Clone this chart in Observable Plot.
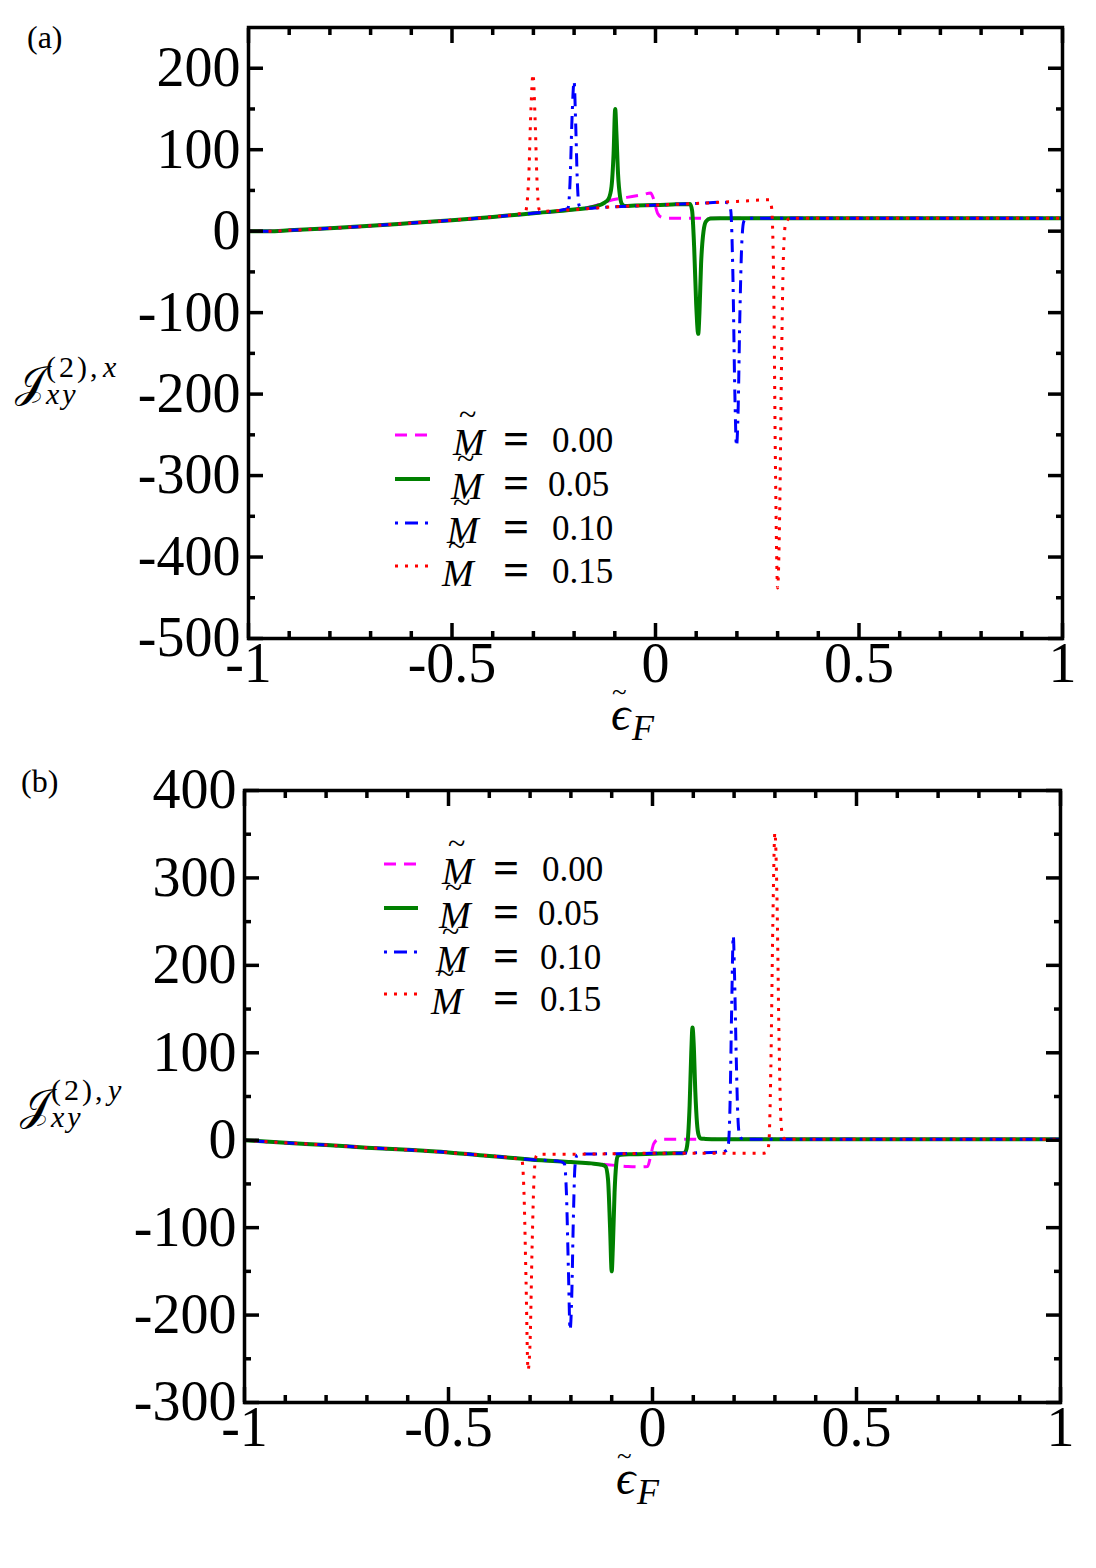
<!DOCTYPE html>
<html><head><meta charset="utf-8">
<script src="https://cdn.jsdelivr.net/npm/d3@7"></script>
<script src="https://cdn.jsdelivr.net/npm/@observablehq/plot@0.6"></script>
<style>
body{margin:0;background:#fff;}
#chart svg{display:block;}
</style></head><body><div id="chart"></div>
<script>
// ---------- series meta ----------
const massLabels = ["0.00", "0.05", "0.10", "0.15"];
const colors = ["#ff00ff", "#008000", "#0000ff", "#ff0000"];
const dashes = ["12,8", null, "3,7,13,7", "3,7"];
const widths = [3, 4, 3, 3];

// ---------- ticks ----------
const xTicks = [-1, -0.5, 0, 0.5, 1];
const xTickLabels = ["-1", "-0.5", "0", "0.5", "1"];
const xMinor = [-0.9, -0.8, -0.7, -0.6, -0.4, -0.3, -0.2, -0.1, 0.1, 0.2, 0.3, 0.4, 0.6, 0.7, 0.8, 0.9];
const aYTicks = [-500, -400, -300, -200, -100, 0, 100, 200];
const aYTickLabels = ["-500", "-400", "-300", "-200", "-100", "0", "100", "200"];
const aYMinor = [-450, -350, -250, -150, -50, 50, 150];
const bYTicks = [-300, -200, -100, 0, 100, 200, 300, 400];
const bYTickLabels = ["-300", "-200", "-100", "0", "100", "200", "300", "400"];
const bYMinor = [-250, -150, -50, 50, 150, 250, 350];

// ---------- panel (a) data: J^(2),x ----------
const aBaseX = [-1, -0.95, -0.9, -0.8, -0.7, -0.6, -0.5, -0.4, -0.3, -0.2];
const aBaseY = [0, 0, 1, 3.5, 6.5, 10, 13.5, 17.5, 22, 26.5];
const a000X = [-0.15, -0.105, -0.07, -0.03, -0.012, -0.005, 0.005, 0.015, 0.025, 0.5, 1];
const a000Y = [31, 38.5, 41.5, 45, 47, 40, 22, 17, 16, 16, 16];
const a005X = [-0.15, -0.125, -0.115, -0.108, -0.103, -0.099, -0.096, -0.092, -0.087, -0.082, -0.075, -0.05, 0, 0.05, 0.085, 0.09, 0.095, 0.1, 0.105, 0.108, 0.112, 0.118, 0.124, 0.135, 0.16, 1];
const a005Y = [30, 35, 40, 55, 95, 150, 120, 70, 42, 33, 31, 31.5, 32, 33, 33.5, 25, -20, -90, -126, -100, -40, 0, 12, 15.5, 16, 16];
const a010X = [-0.225, -0.215, -0.21, -0.205, -0.2, -0.196, -0.192, -0.188, -0.183, -0.1, 0, 0.1, 0.17, 0.18, 0.185, 0.19, 0.195, 0.199, 0.203, 0.207, 0.212, 0.217, 0.225, 1];
const a010Y = [26.5, 28, 60, 140, 184, 130, 60, 32, 28, 30, 32, 34, 35.5, 34, 25, -50, -200, -264, -220, -110, -15, 12, 16, 16];
const a015X = [-0.32, -0.312, -0.306, -0.301, -0.296, -0.291, -0.286, -0.28, -0.2, -0.1, 0, 0.1, 0.2, 0.28, 0.285, 0.29, 0.295, 0.3, 0.305, 0.31, 0.315, 0.32, 0.33, 1];
const a015Y = [23, 60, 150, 193, 140, 60, 27, 24.5, 26.5, 30, 32, 34, 36.5, 38.5, 30, -50, -300, -438, -350, -150, -20, 10, 16, 16];

// ---------- panel (b) data: J^(2),y ----------
const bBaseX = [-1, -0.9, -0.8, -0.7, -0.6, -0.5, -0.4, -0.35];
const bBaseY = [0, -3, -5.5, -8.5, -11, -14, -18, -20];
const b000X = [-0.3, -0.2, -0.15, -0.11, -0.06, -0.03, -0.012, -0.005, 0.003, 0.015, 0.03, 1];
const b000Y = [-22, -25, -26.5, -28, -30, -30.5, -30, -19, -4, 1, 1, 1];
const b005X = [-0.3, -0.2, -0.15, -0.125, -0.115, -0.109, -0.104, -0.1, -0.097, -0.093, -0.089, -0.085, -0.078, -0.05, 0, 0.05, 0.075, 0.081, 0.086, 0.091, 0.095, 0.098, 0.101, 0.105, 0.109, 0.113, 0.118, 0.13, 0.16, 1];
const b005Y = [-22, -25, -26.5, -28, -30, -45, -100, -150, -120, -60, -28, -18, -16.5, -16, -15.5, -15, -15, -13, -2, 40, 100, 129, 110, 55, 20, 6, 2, 1.5, 1, 1];
const b010X = [-0.3, -0.225, -0.216, -0.211, -0.206, -0.202, -0.198, -0.194, -0.19, -0.185, -0.178, -0.1, 0, 0.1, 0.17, 0.182, 0.186, 0.19, 0.194, 0.198, 0.201, 0.205, 0.209, 0.213, 0.218, 0.226, 1];
const b010Y = [-22, -24.5, -27, -60, -150, -217, -180, -90, -30, -17, -16, -15.5, -15, -14.5, -13.5, -11.5, -5, 40, 150, 234, 190, 100, 30, 6, 2, 1, 1];
const b015X = [-0.33, -0.32, -0.315, -0.31, -0.305, -0.3, -0.295, -0.29, -0.285, -0.28, -0.2, -0.1, 0, 0.1, 0.2, 0.27, 0.28, 0.285, 0.29, 0.295, 0.3, 0.305, 0.31, 0.315, 0.32, 0.33, 1];
const b015Y = [-21.5, -23, -60, -160, -263, -230, -120, -40, -18, -16, -16, -15.5, -15, -15, -15, -15, -14, -5, 80, 250, 352, 280, 120, 20, 3, 1, 1];

function build(bx, by, tx, ty) {
  const pts = [];
  bx.forEach((x, i) => { if (x < tx[0]) pts.push({x, y: by[i]}); });
  tx.forEach((x, i) => pts.push({x, y: ty[i]}));
  return pts;
}
const aSeries = [
  build(aBaseX, aBaseY, a000X, a000Y),
  build(aBaseX, aBaseY, a005X, a005Y),
  build(aBaseX, aBaseY, a010X, a010Y),
  build(aBaseX, aBaseY, a015X, a015Y)
];
const bSeries = [
  build(bBaseX, bBaseY, b000X, b000Y),
  build(bBaseX, bBaseY, b005X, b005Y),
  build(bBaseX, bBaseY, b010X, b010Y),
  build(bBaseX, bBaseY, b015X, b015Y)
];

const FONT = "'Liberation Serif', 'Times New Roman', serif";

function panel(cfg) {
  const xMap = new Map(xTicks.map((t, i) => [t, xTickLabels[i]]));
  const yMap = new Map(cfg.yTicks.map((t, i) => [t, cfg.yLabels[i]]));
  const tk = {strokeWidth: 3.5, fill: "none", label: null};
  return Plot.plot({
    width: 1096, height: cfg.height,
    marginLeft: cfg.ml, marginRight: cfg.mr, marginTop: cfg.mt, marginBottom: cfg.mb,
    style: {fontFamily: FONT, fontSize: "56px", background: "white", overflow: "visible", color: "black"},
    x: {domain: [-1, 1]},
    y: {domain: cfg.yDomain},
    marks: [
      ...cfg.series.map((s, i) => Plot.line(s, {
        x: "x", y: "y", stroke: colors[i], strokeWidth: widths[i],
        strokeDasharray: dashes[i], curve: "monotone-x", strokeLinecap: "butt"
      })),
      Plot.axisY(cfg.yTicks, {...tk, anchor: "left", tickSize: -15}),
      Plot.axisY(cfg.yMinor, {...tk, anchor: "left", tickSize: -7}),
      Plot.axisY(cfg.yTicks, {...tk, anchor: "right", tickSize: -15}),
      Plot.axisY(cfg.yMinor, {...tk, anchor: "right", tickSize: -7}),
      Plot.axisX(xTicks, {...tk, anchor: "bottom", tickSize: -15}),
      Plot.axisX(xMinor, {...tk, anchor: "bottom", tickSize: -7}),
      Plot.axisX(xTicks, {...tk, anchor: "top", tickSize: -15}),
      Plot.axisX(xMinor, {...tk, anchor: "top", tickSize: -7}),
      Plot.axisY(cfg.yTicks, {anchor: "left", tickSize: 0, tickPadding: 8, label: null,
        tickFormat: d => yMap.get(d), fontSize: 56, fontFamily: FONT}),
      Plot.axisX(xTicks, {anchor: "bottom", tickSize: 0, tickPadding: 4, label: null,
        tickFormat: d => xMap.get(d), fontSize: 56, fontFamily: FONT}),
      Plot.frame({stroke: "black", strokeWidth: 3.5})
    ]
  });
}

// one <text> per label, pieces as absolutely placed tspans
function rich(g, parts) {
  const t = g.append("text").attr("font-family", FONT).attr("text-anchor", "start").attr("fill", "black");
  parts.forEach(p => {
    const s = t.append("tspan").attr("x", p.x).attr("y", p.y).attr("font-size", p.size).text(p.s);
    if (p.italic) s.attr("font-style", "italic");
    if (p.bold) s.attr("font-weight", "bold");
    if (p.ls) s.attr("letter-spacing", p.ls);
  });
  return t;
}

function decorate(svg, d) {
  const g = d3.select(svg).append("g").attr("text-anchor", "start");
  rich(g, [{x: d.tag[0], y: d.tag[1], s: d.tag[2], size: 32}]);
  // y label  J_{xy}^{(2),c}
  const [yx, yy] = d.yl;
  rich(g, [
    {x: yx, y: yy, s: "\u{1D4A5}", size: 44},
    {x: yx + 31, y: yy - 20, s: "(2),", size: 30, ls: 3},
    {x: yx + 88, y: yy - 20, s: d.comp, size: 30, italic: true},
    {x: yx + 31, y: yy + 7, s: "xy", size: 30, italic: true, ls: 3}
  ]);
  // x label  eps~_F
  const [xx, xy] = d.xl;
  rich(g, [
    {x: xx + 1, y: xy - 29, s: "~", size: 27},
    {x: xx, y: xy, s: "\u03F5", size: 48, italic: true},
    {x: xx + 21, y: xy + 10, s: "F", size: 36, italic: true}
  ]);
  // legend
  d.leg.forEach((r, i) => {
    g.append("line").attr("x1", r.lx1).attr("x2", r.lx2).attr("y1", r.ly).attr("y2", r.ly)
      .attr("stroke", colors[i]).attr("stroke-width", widths[i])
      .attr("stroke-dasharray", dashes[i]);
    rich(g, [
      {x: r.mx + 6, y: r.ly - 10, s: "~", size: 32},
      {x: r.mx, y: r.ly + 20, s: "M", size: 38, italic: true},
      {x: d.eqx, y: r.ly + 19, s: "=", size: 46, bold: true},
      {x: r.nx, y: r.ly + 17, s: massLabels[i], size: 35}
    ]);
  });
}

const svgA = panel({height: 760, ml: 248, mr: 34, mt: 27, mb: 122,
  yDomain: [-500, 250], yTicks: aYTicks, yLabels: aYTickLabels, yMinor: aYMinor, series: aSeries});
decorate(svgA, {
  tag: [27, 48, "(a)"], yl: [15, 397], comp: "x", xl: [611, 730], eqx: 503,
  leg: [
    {ly: 435, lx1: 395, lx2: 430, mx: 453, nx: 552},
    {ly: 479, lx1: 395, lx2: 430, mx: 451, nx: 548},
    {ly: 523, lx1: 395, lx2: 430, mx: 447, nx: 552},
    {ly: 566, lx1: 395, lx2: 430, mx: 442, nx: 552}
  ]
});
const svgB = panel({height: 808, ml: 244, mr: 36, mt: 30, mb: 166,
  yDomain: [-300, 400], yTicks: bYTicks, yLabels: bYTickLabels, yMinor: bYMinor, series: bSeries});
decorate(svgB, {
  tag: [21, 32, "(b)"], yl: [20, 360], comp: "y", xl: [616, 734], eqx: 493,
  leg: [
    {ly: 104, lx1: 384, lx2: 418, mx: 442, nx: 542},
    {ly: 148, lx1: 384, lx2: 418, mx: 439, nx: 538},
    {ly: 192, lx1: 384, lx2: 418, mx: 436, nx: 540},
    {ly: 234, lx1: 384, lx2: 418, mx: 431, nx: 540}
  ]
});
document.getElementById("chart").append(svgA, svgB);
</script></body></html>
